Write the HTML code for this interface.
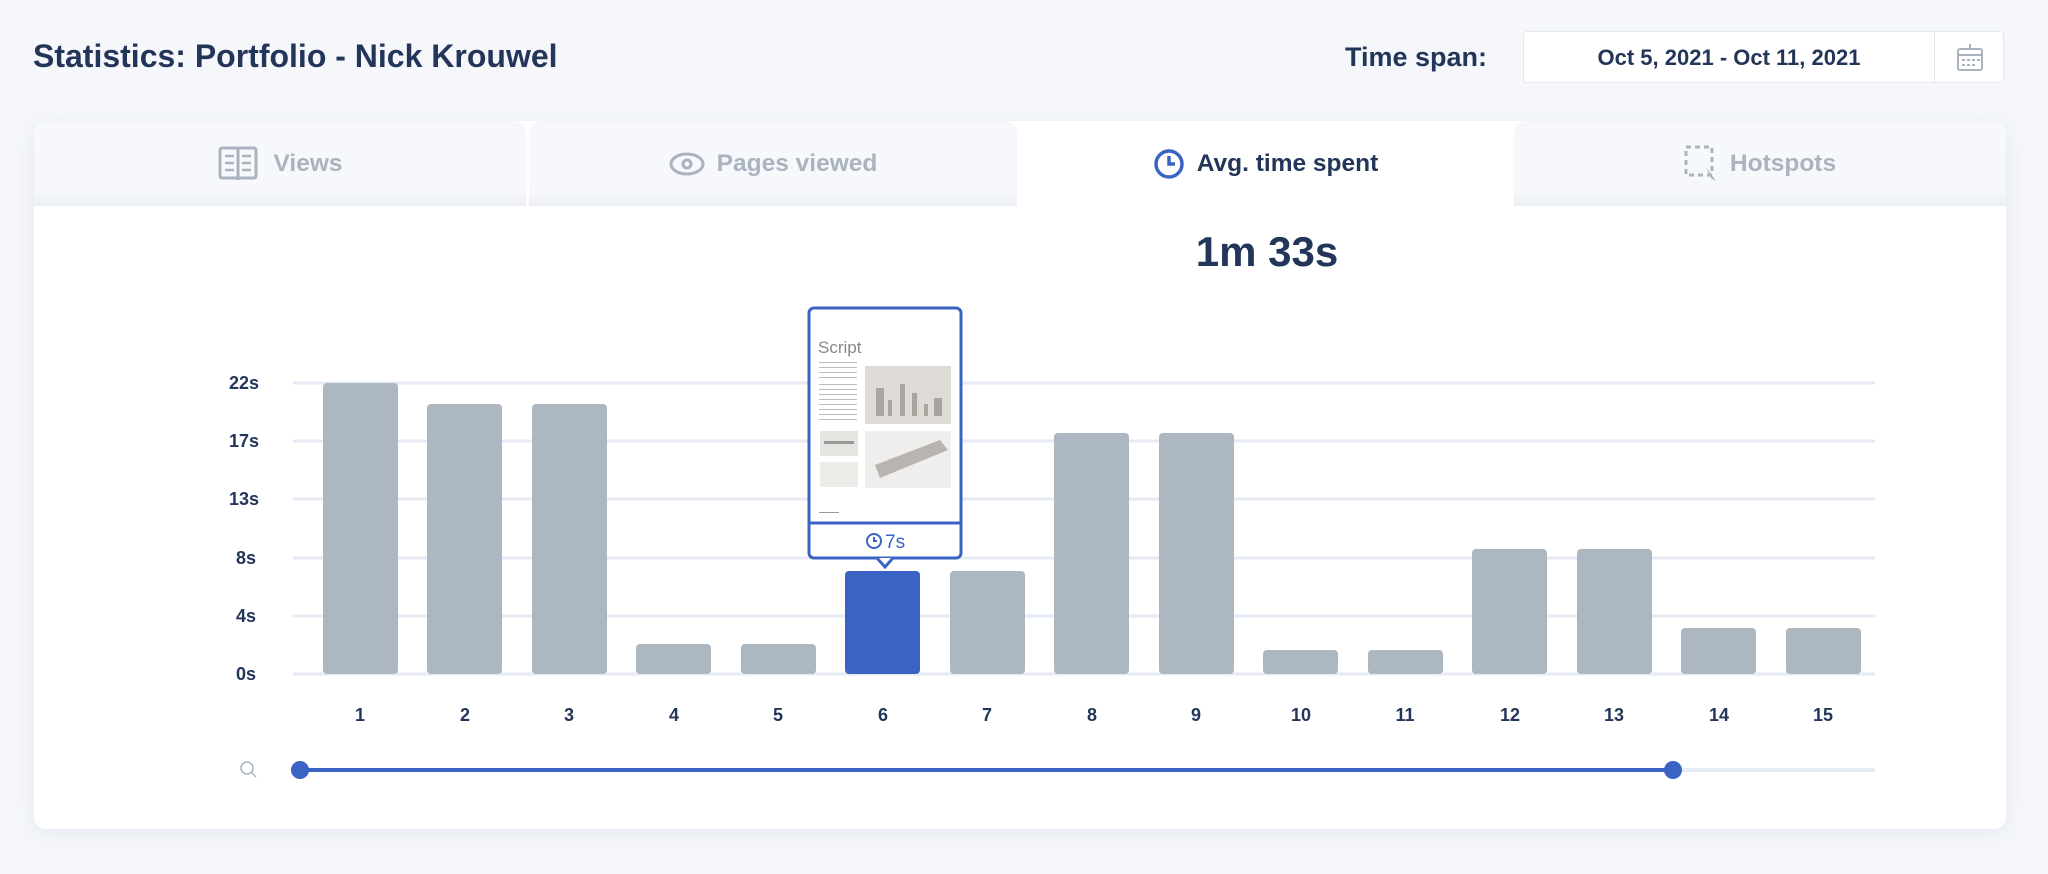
<!DOCTYPE html>
<html><head><meta charset="utf-8"><style>
html,body{margin:0;padding:0;width:2048px;height:874px;background:#f5f7fb;font-family:"Liberation Sans",sans-serif;overflow:hidden}
.title{position:absolute;left:33px;top:38px;font-size:32px;font-weight:bold;color:#23365a}
.ts{position:absolute;left:1345px;top:42px;font-size:27px;font-weight:bold;color:#23365a}
.date{position:absolute;left:1523px;top:31px;width:481px;height:52px;background:#fff;border:1px solid #e3e8f0;border-radius:4px;box-sizing:border-box}
.date span{position:absolute;left:0;width:410px;top:13px;text-align:center;font-size:22px;color:#23365a;font-weight:bold}
.date .div{position:absolute;left:410px;top:0;width:1px;height:50px;background:#e3e8f0}
.card{position:absolute;left:34px;top:121px;width:1972px;height:708px;background:#fff;border-radius:12px;box-shadow:0 4px 20px rgba(40,60,110,0.08)}
.tab{position:absolute;top:121px;height:85px;background:#f6f8fc;border-radius:12px 12px 0 0;box-shadow:inset 0 -14px 14px -10px rgba(60,80,130,0.08);font-size:24.5px;font-weight:bold;color:#aab3be;display:flex;align-items:center;justify-content:center;gap:12px}
.tab.act{background:#fff;color:#23365a;box-shadow:none}
</style></head><body>
<div class="title">Statistics: Portfolio - Nick Krouwel</div>
<div class="ts">Time span:</div>
<div class="date"><span>Oct 5, 2021 - Oct 11, 2021</span><div class="div"></div>
<svg style="position:absolute;left:432px;top:12px" width="30" height="28"><rect x="2" y="5" width="24" height="21" rx="2" fill="none" stroke="#aab3be" stroke-width="2"/><line x1="2" y1="11" x2="26" y2="11" stroke="#aab3be" stroke-width="2"/><line x1="14" y1="0" x2="14" y2="6" stroke="#aab3be" stroke-width="2"/><g fill="#aab3be"><rect x="6" y="15" width="3" height="2"/><rect x="11" y="15" width="3" height="2"/><rect x="16" y="15" width="3" height="2"/><rect x="21" y="15" width="3" height="2"/><rect x="6" y="20" width="3" height="2"/><rect x="11" y="20" width="3" height="2"/><rect x="16" y="20" width="3" height="2"/></g></svg></div>
<div class="card"></div>
<div class="tab" style="left:34px;width:492px"><svg width="44" height="40"><rect x="3" y="4" width="36" height="30" rx="2" fill="none" stroke="#aab3be" stroke-width="3"/><line x1="21" y1="4" x2="21" y2="36" stroke="#aab3be" stroke-width="3"/><g stroke="#aab3be" stroke-width="2.5"><line x1="8" y1="12" x2="17" y2="12"/><line x1="8" y1="19" x2="17" y2="19"/><line x1="8" y1="26" x2="17" y2="26"/><line x1="25" y1="12" x2="34" y2="12"/><line x1="25" y1="19" x2="34" y2="19"/><line x1="25" y1="26" x2="34" y2="26"/></g></svg>Views</div>
<div class="tab" style="left:529px;width:488px"><svg width="36" height="26"><ellipse cx="18" cy="13" rx="16" ry="10" fill="none" stroke="#aab3be" stroke-width="3"/><circle cx="18" cy="13" r="4" fill="none" stroke="#aab3be" stroke-width="3"/></svg>Pages viewed</div>
<div class="tab act" style="left:1020px;width:491px"><svg width="32" height="32"><circle cx="16" cy="16" r="13" fill="none" stroke="#3b63c4" stroke-width="3.5"/><path d="M16 8 V16 H22" fill="none" stroke="#3b63c4" stroke-width="3.5"/></svg>Avg. time spent</div>
<div class="tab" style="left:1514px;width:492px"><svg width="34" height="38"><rect x="2" y="2" width="26" height="28" fill="none" stroke="#aab3be" stroke-width="3" stroke-dasharray="5 4"/><path d="M22 22 L32 36 L27 33 Z" fill="#aab3be"/></svg>Hotspots</div>
<svg style="position:absolute;left:0;top:0" width="2048" height="874">
<text x="1267" y="266" text-anchor="middle" font-family="Liberation Sans" font-weight="bold" font-size="42" fill="#23365a">1m 33s</text>
<g stroke="#e6eaf4" stroke-width="3">
<line x1="293" y1="383" x2="1875" y2="383"/><line x1="293" y1="441" x2="1875" y2="441"/><line x1="293" y1="499" x2="1875" y2="499"/><line x1="293" y1="558" x2="1875" y2="558"/><line x1="293" y1="616" x2="1875" y2="616"/><line x1="293" y1="674" x2="1875" y2="674"/></g>
<g font-family="Liberation Sans" font-weight="bold" font-size="18" fill="#23365a" text-anchor="end">
<text x="259" y="389">22s</text><text x="259" y="447">17s</text><text x="259" y="505">13s</text><text x="256" y="564">8s</text><text x="256" y="622">4s</text><text x="256" y="680">0s</text></g>
<g fill="#adb7c1">
<rect x="323" y="383" width="75" height="291" rx="4"/>
<rect x="427" y="404" width="75" height="270" rx="4"/>
<rect x="532" y="404" width="75" height="270" rx="4"/>
<rect x="636" y="644" width="75" height="30" rx="4"/>
<rect x="741" y="644" width="75" height="30" rx="4"/>
<rect x="845" y="571" width="75" height="103" rx="4" fill="#3b63c4"/>
<rect x="950" y="571" width="75" height="103" rx="4"/>
<rect x="1054" y="433" width="75" height="241" rx="4"/>
<rect x="1159" y="433" width="75" height="241" rx="4"/>
<rect x="1263" y="650" width="75" height="24" rx="4"/>
<rect x="1368" y="650" width="75" height="24" rx="4"/>
<rect x="1472" y="549" width="75" height="125" rx="4"/>
<rect x="1577" y="549" width="75" height="125" rx="4"/>
<rect x="1681" y="628" width="75" height="46" rx="4"/>
<rect x="1786" y="628" width="75" height="46" rx="4"/>
</g>
<g font-family="Liberation Sans" font-weight="bold" font-size="18" fill="#23365a" text-anchor="middle">
<text x="360" y="721">1</text><text x="465" y="721">2</text><text x="569" y="721">3</text><text x="674" y="721">4</text><text x="778" y="721">5</text><text x="883" y="721">6</text><text x="987" y="721">7</text><text x="1092" y="721">8</text><text x="1196" y="721">9</text><text x="1301" y="721">10</text><text x="1405" y="721">11</text><text x="1510" y="721">12</text><text x="1614" y="721">13</text><text x="1719" y="721">14</text><text x="1823" y="721">15</text></g>
<line x1="300" y1="770" x2="1875" y2="770" stroke="#e6eaf4" stroke-width="4"/>
<line x1="300" y1="770" x2="1673" y2="770" stroke="#3b63c4" stroke-width="4"/>
<circle cx="300" cy="770" r="9" fill="#3b63c4"/><circle cx="1673" cy="770" r="9" fill="#3b63c4"/>
<circle cx="247" cy="768" r="6" fill="none" stroke="#aab3be" stroke-width="1.5"/><line x1="251" y1="772" x2="256" y2="777" stroke="#aab3be" stroke-width="1.5"/>
<rect x="809" y="308" width="152" height="250" rx="5" fill="#fff" stroke="#3b63c4" stroke-width="3"/>
<path d="M877 558 L885 567 L893 558" fill="#fff" stroke="#3b63c4" stroke-width="3"/>
<line x1="809" y1="523" x2="961" y2="523" stroke="#3b63c4" stroke-width="3"/>
<text x="818" y="353" font-family="Liberation Sans" font-size="17" fill="#888">Script</text>
<g fill="#bbb"><rect x="819" y="362" width="38" height="1"/><rect x="819" y="367" width="38" height="1"/><rect x="819" y="372" width="38" height="1"/><rect x="819" y="377" width="38" height="1"/><rect x="819" y="384" width="38" height="1"/><rect x="819" y="389" width="38" height="1"/><rect x="819" y="394" width="38" height="1"/><rect x="819" y="399" width="38" height="1"/><rect x="819" y="404" width="38" height="1"/><rect x="819" y="409" width="38" height="1"/><rect x="819" y="414" width="38" height="1"/><rect x="819" y="419" width="38" height="1"/></g>
<rect x="865" y="366" width="86" height="58" fill="#dedbd6"/>
<g fill="#a8a49e"><rect x="876" y="388" width="8" height="28"/><rect x="888" y="400" width="4" height="16"/><rect x="900" y="384" width="5" height="32"/><rect x="912" y="393" width="5" height="23"/><rect x="924" y="404" width="4" height="12"/><rect x="934" y="398" width="8" height="18"/></g>
<rect x="820" y="431" width="38" height="25" fill="#e6e4e0"/>
<rect x="824" y="441" width="30" height="3" fill="#999"/>
<rect x="820" y="462" width="38" height="25" fill="#eeece8"/>
<rect x="865" y="431" width="86" height="57" fill="#efeeec"/>
<path d="M875 465 L940 440 L948 450 L880 478 Z" fill="#b8b5b0"/>
<rect x="819" y="512" width="20" height="1" fill="#999"/>
<circle cx="874" cy="541" r="7" fill="none" stroke="#3b63c4" stroke-width="2"/><path d="M874 537 V541 H877" fill="none" stroke="#3b63c4" stroke-width="2"/>
<text x="885" y="548" font-family="Liberation Sans" font-size="19" fill="#3b63c4">7s</text>
</svg>
</body></html>
